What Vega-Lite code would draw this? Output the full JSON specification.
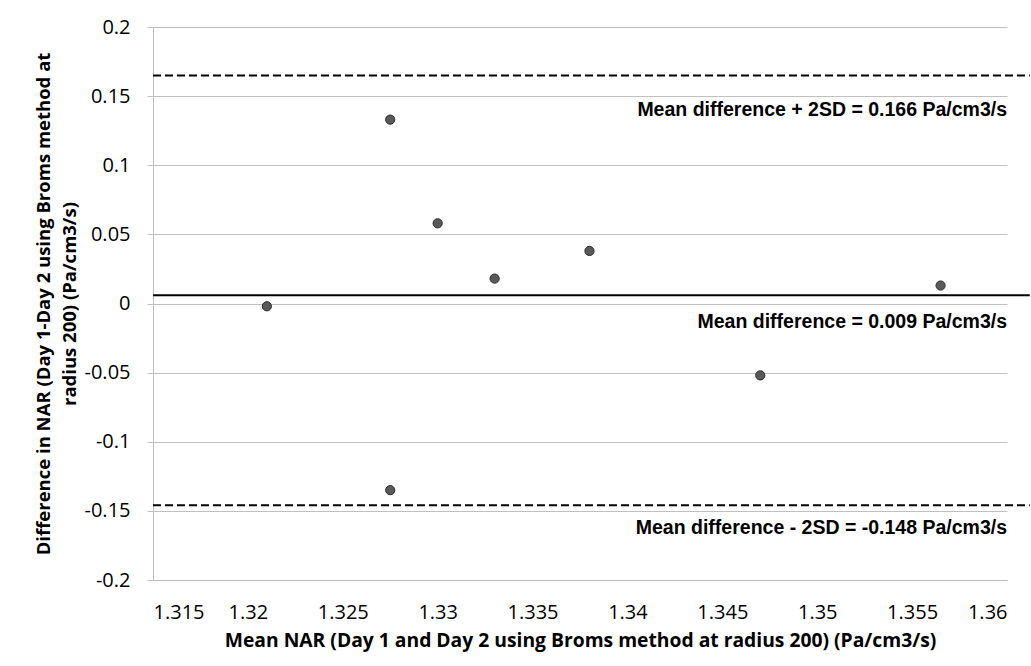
{
  "$schema": "https://vega.github.io/schema/vega-lite/v6.json",
  "width": 854,
  "height": 553,
  "autosize": {"type": "none"},
  "padding": {"left": 153, "top": 27, "right": 24, "bottom": 86},
  "background": "white",
  "config": {
    "view": {"stroke": null},
    "axis": {
      "labelFont": "Open Sans",
      "labelFontSize": 20,
      "labelColor": "#000000",
      "titleFont": "Open Sans",
      "titleFontSize": 19.3,
      "titleFontWeight": "bold",
      "titleColor": "#000000",
      "titleLimit": 2000,
      "gridColor": "#c0c0c0",
      "domainColor": "#c0c0c0",
      "tickColor": "#c0c0c0"
    }
  },
  "datasets": {
    "points": [
      {"mean": 1.321, "diff": -0.002},
      {"mean": 1.3275, "diff": 0.133},
      {"mean": 1.33, "diff": 0.058},
      {"mean": 1.333, "diff": 0.018},
      {"mean": 1.338, "diff": 0.038},
      {"mean": 1.3565, "diff": 0.013},
      {"mean": 1.347, "diff": -0.052},
      {"mean": 1.3275, "diff": -0.135}
    ],
    "lines": [
      {"kind": "upper", "y": 0.165, "xstart": 1.315, "xend": 1.3612},
      {"kind": "mean", "y": 0.006, "xstart": 1.315, "xend": 1.3612},
      {"kind": "lower", "y": -0.146, "xstart": 1.315, "xend": 1.3612}
    ],
    "labels": [
      {"text": "Mean difference + 2SD = 0.166 Pa/cm3/s", "x": 1.36, "y": 0.14},
      {"text": "Mean difference = 0.009 Pa/cm3/s", "x": 1.36, "y": -0.0134},
      {"text": "Mean difference - 2SD = -0.148 Pa/cm3/s", "x": 1.36, "y": -0.1624}
    ]
  },
  "layer": [
    {
      "data": {"name": "points"},
      "mark": {"type": "point", "filled": true, "shape": "circle", "size": 85, "fill": "#595959", "stroke": "#2e2e2e", "strokeWidth": 1, "opacity": 1},
      "encoding": {
        "x": {
          "field": "mean", "type": "quantitative",
          "scale": {"domain": [1.315, 1.36], "zero": false, "nice": false},
          "axis": {
            "title": "Mean NAR (Day 1 and Day 2 using Broms method at radius 200) (Pa/cm3/s)",
            "values": [1.315, 1.32, 1.325, 1.33, 1.335, 1.34, 1.345, 1.35, 1.355, 1.36],
            "labelExpr": "'' + datum.value",
            "grid": false,
            "ticks": false,
            "domain": true,
            "labelPadding": 22,
            "titleY": 60,
            "titleBaseline": "middle"
          }
        },
        "y": {
          "field": "diff", "type": "quantitative",
          "scale": {"domain": [-0.2, 0.2], "zero": false, "nice": false},
          "axis": {
            "title": ["Difference in NAR (Day 1-Day 2 using Broms method at", "radius 200) (Pa/cm3/s)"],
            "values": [-0.2, -0.15, -0.1, -0.05, 0, 0.05, 0.1, 0.15, 0.2],
            "labelExpr": "'' + datum.value",
            "grid": true,
            "tickSize": 6,
            "labelPadding": 17,
            "titleFontSize": 18.5,
            "titleX": -110,
            "titleY": 276.5,
            "titleBaseline": "middle",
            "titleLineHeight": 26
          }
        }
      }
    },
    {
      "data": {"name": "lines"},
      "transform": [{"filter": "datum.kind !== 'mean'"}],
      "mark": {"type": "rule", "color": "#000000", "strokeWidth": 2, "strokeDash": [8, 4], "clip": false},
      "encoding": {
        "x": {"field": "xstart", "type": "quantitative"},
        "x2": {"field": "xend"},
        "y": {"field": "y", "type": "quantitative"}
      }
    },
    {
      "data": {"name": "lines"},
      "transform": [{"filter": "datum.kind === 'mean'"}],
      "mark": {"type": "rule", "color": "#000000", "strokeWidth": 2, "clip": false},
      "encoding": {
        "x": {"field": "xstart", "type": "quantitative"},
        "x2": {"field": "xend"},
        "y": {"field": "y", "type": "quantitative"}
      }
    },
    {
      "data": {"name": "labels"},
      "mark": {"type": "text", "align": "right", "baseline": "middle", "font": "Liberation Sans", "fontSize": 19.5, "fontWeight": "bold", "color": "#000000"},
      "encoding": {
        "x": {"field": "x", "type": "quantitative"},
        "y": {"field": "y", "type": "quantitative"},
        "text": {"field": "text"}
      }
    }
  ]
}
